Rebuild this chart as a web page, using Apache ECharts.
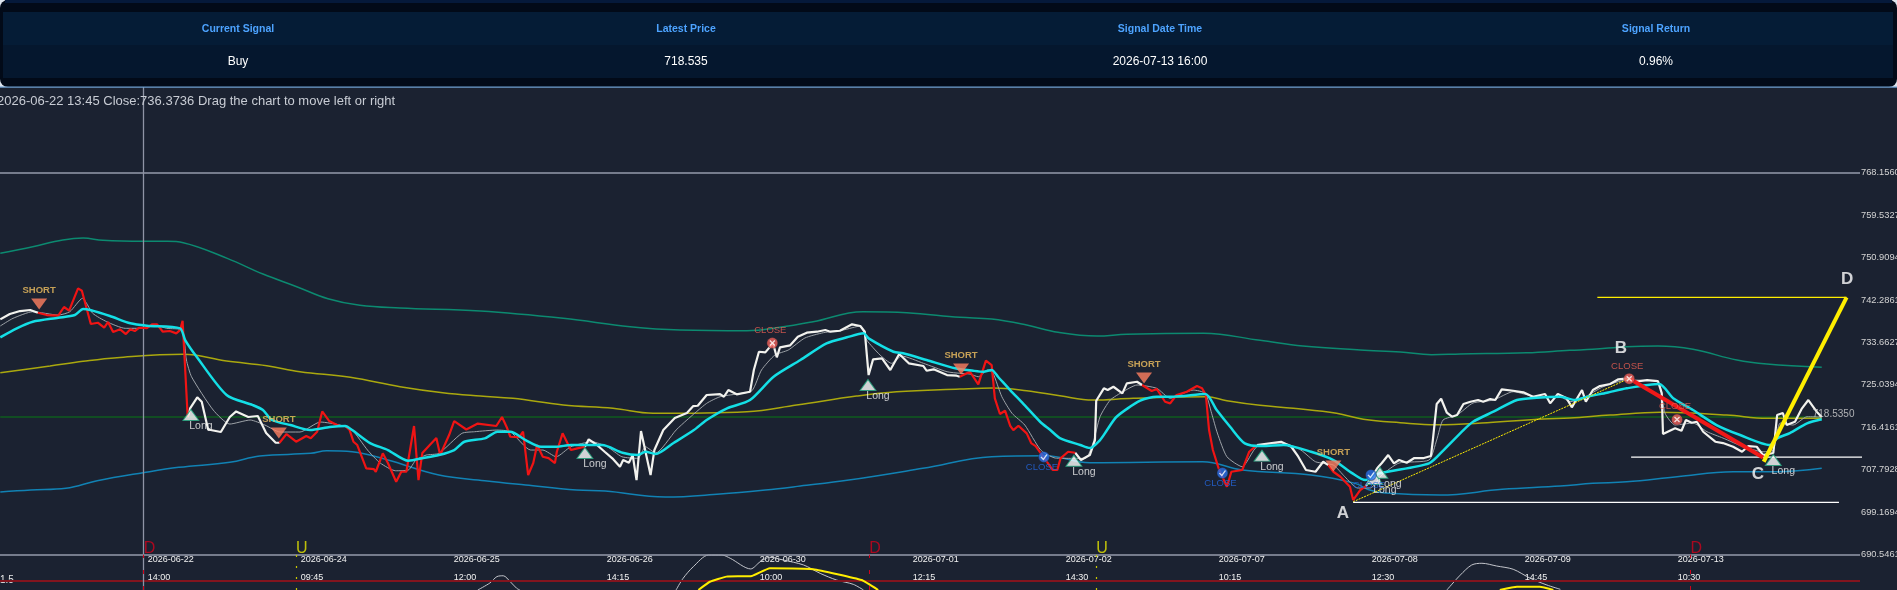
<!DOCTYPE html>
<html><head><meta charset="utf-8">
<style>html,body{margin:0;padding:0;background:#1b2231;overflow:hidden}#c{width:1897px;height:590px}</style>
<script src="https://cdn.jsdelivr.net/npm/echarts@6/dist/echarts.min.js"></script>
</head><body><div id="c"></div>
<script>
const summaryHeaders=['Current Signal','Latest Price','Signal Date Time','Signal Return'];
const summaryValues=['Buy','718.535','2026-07-13 16:00','0.96%'];
const hoverText='2026-06-22 13:45 Close:736.3736 Drag the chart to move left or right';
const yTicks=[768.156,759.5327,750.9094,742.2861,733.6627,725.0394,716.4161,707.7928,699.1694,690.5461];
const xTickLabels=['2026-06-22\n14:00','2026-06-24\n09:45','2026-06-25\n12:00','2026-06-26\n14:15','2026-06-30\n10:00','2026-07-01\n12:15','2026-07-02\n14:30','2026-07-07\n10:15','2026-07-08\n12:30','2026-07-09\n14:45','2026-07-13\n10:30'];
const latestPrice=718.535;

const closeBars=[1.5,3,4.6,6.2,7.4,8.8,10.6,11.5,12.3,13.7,14.3,15.7,16.8,17.8,18.4,19.2,20.3,21.2,21.9,22.6,23.3,24.5,25.3,26.1,27,28.1,29.1,29.7,30.1,30.9,31.3,32.4,33.1,34.1,36.1,37.5,38.5,40.4,41.9,43.2,44.7,45.3,46.4,47.9,49.5,50.2,51.2,52,53.1,54.6,55.6,56.3,56.9,57.5,58.9,60.1,60.4,61.5,62.3,63.6,64.4,65.2,66.4,67.1,67.7,69.9,70.5,71.9,72.7,74.6,76.4,79.3,80.2,81,81.5,82.9,83.5,84.3,85.1,85.7,86.6,87.5,88.5,88.8,89.7,91,92,93.2,93.8,95.1,96.3,97.5,98.7,99.2,100.1,100.7,101.3,102,103.5,104.1,105.5,107.3,109.2,110.2,110.9,112.3,114.4,115,115.7,117,119.1,119.7,120.5,121.5,122.7,123.3,123.8,125.4,126.6,128,129.6,130.9,131.7,133.2,135.1,136.4,137.1,137.7,138.4,139.8,141.1,142.5,144,146.3,146.8,147.9,150,151.5,152,153.6,154.9,156.1,157,157.5,158.3,159.1,159.9,160.4,161.2,162.5,163.2,163.9,166.6,167.3,167.8,169,170.1,171,172.4,173.2,173.4,174.6,175.2,176.1,177.5,178.2,179.8,180.6,182.1,182.9,184.2,185,186,187.6,189.2,190,190.6,191.1,191.7,192.6,193.9,194.6,196.3,197.4,198.6,202.4,204,205.1,206.3,207.8,209,209.8,210.6,211.7,213.2,213.7,214.8,215.7,217.5,218.2,219.2,220.1,220.9,222.1,223.3,224.8,225.9,226.2,226.8,227.5,228.4,229.2,230,231,232.1,233.3,234.1,235.2,236,237,238.8,240.4,241.9,243.8,244.6,245.8,247.2,248,249.6,250.2,251.3,252.4,254,255.3,256.8,257.9,259.8,261.5,262.1,262.3,264.2,265.2,265.9,266.8,267.6,268.6,270.5,271.7,273.3,274.7,275.7,277,278,279.6,280.2,281.1,281.7,283,284.1,285.1,286.4,287.2];
const closeValues=[738.37,739.45,740.05,740.26,739.71,739.24,739.1,740.87,740.12,744.67,744.18,737.41,737.68,736.66,737.82,735.79,736.34,735.38,736.34,735.99,736.66,736.6,737.35,737.35,735.85,735.99,735.52,736.19,738.08,718.52,720.34,722.52,721.62,715.98,715.47,718.52,719.65,718.52,718.72,715.26,713.29,713.29,715.06,713.5,714.65,714.19,715.53,719.65,717.7,716.69,716.69,715.87,713.5,712.83,708.09,707.95,707.4,711.14,709.17,705.37,707.4,707.4,716.69,705.71,711.2,714.25,710.79,714.86,717.7,715.98,717.19,716.69,718.52,716.28,714.51,714.45,715.53,706.73,709.17,712.83,710.45,710.18,709.17,711.46,715.2,711.81,712.16,712.48,713.98,712.83,711.46,710.12,708.42,709.78,709.23,710.79,705.71,715.67,706.73,711.81,715.87,718.31,719.33,720.75,720.81,722.99,723.19,722.64,724,723.13,723.66,728.07,731.78,731.66,733.49,730.65,732.68,733.08,734.83,735.65,735.85,736.19,735.85,736.05,737.35,737.01,735.85,727.05,730.24,730.44,728.07,731.32,729.43,728.88,727.92,728.21,727.05,726.91,726.7,727.72,725.16,729.96,729.08,722.32,719.13,719.8,716.75,715.87,716.75,715.2,713.23,712.62,707.75,707.75,710.12,711.46,711.26,709.78,710.79,713.84,721.83,724.35,724,724.67,723.33,725.36,725.69,725.02,723.8,724.21,721.62,721.3,722.99,723.66,724.81,724.35,722.99,715.87,711.81,708.09,704.35,707.4,707.75,711.46,712.83,713.5,712.48,710.45,707.75,707.4,709.43,708.76,707.4,706.38,704.35,701.65,703.68,704.49,708.15,709.17,710.79,709.11,709.78,709.23,710.18,710.18,710.59,713.84,721.16,722.23,719.39,718.58,718.92,721.16,721.62,721.97,721.62,722.17,721.97,724.14,723.86,723.53,722.64,723.19,721.3,723.19,722.31,720.49,724,721.62,724,724.81,725.22,726.18,726.38,725.69,726.03,725.83,723.39,715.06,716.22,715.73,717.91,717.36,717.56,715.53,713.5,713.23,712.48,711.46,712.62,712.48,710.79,711.2,718.92,719.33,716.89,717.56,720.28,721.97,719.6,718.54];
const shortModeRanges=[[7.4,30.9],[45.3,93.2],[152,170.1],[180.6,198.6],[209.8,215.7]];

const thinBars=[1.5,3.5,6.6,10.6,12.4,14.4,16,18.2,21.1,23.9,25.8,27.6,30,30.7,31.5,34.9,37.5,40.7,43,45.4,48.5,51.7,54.8,56.7,59.1,61.1,63.5,65.5,66.7,68.3,70.3,73.9,75.9,79.4,81.5,84.7,86.6,88.7,91,94.3,96.7,99,101.5,102.7,104.3,107.5,109.2,112.3,114.4,117,119.4,120.9,123,125.1,127.7,130.6,133.7,136.4,137.4,139.5,141.3,142.9,146.3,150,152,153.6,154.9,156.4,157.2,158.6,160.2,162.2,164.7,167,169.3,171.7,172.9,174,175.6,177.6,179.8,182.9,185,188.6,190.5,191.5,192.4,193.9,196.3,198.6,202.8,205.5,207.8,210.6,212.4,214.4,216.4,218.2,220.9,225.6,226.8,227.8,230,232.5,235.7,238.8,242.5,246.2,247.7,249.8,252.9,256.6,261.5,262.6,264.2,267,269.2,271.7,274.9,278,279.6,280.7,282.7,284.9,287.2];
const thinValues=[737.01,738.57,739.91,739.24,739.91,742.64,739.59,737.88,736.54,736.54,737.21,736.54,736.19,730.1,726.7,719.94,717.09,717.91,716.89,715.47,715.47,717.5,716.89,715.87,711.81,709.17,707.6,707.75,709.78,710.79,711.14,715.2,715.53,715.87,715.53,711.81,711.81,710.45,712.48,713.5,712.48,710.45,710.12,712.48,711.2,715.87,717.91,721.3,722.64,723.19,723.86,728.07,731.11,732.13,734.57,735.65,736.19,737.01,734.16,731.11,729.43,730.91,729.43,727.72,727.4,727.25,726.7,728.07,727.46,722.64,719.27,716.89,711.81,710.18,710.12,710.12,713.23,718.58,721.97,723.66,725.02,724.35,722.32,724,723.33,719.27,715.26,710.45,708.42,712.48,713.23,711.81,709.43,708.76,706.38,704.09,704.09,706.73,709.17,709.78,713.84,717.91,718.92,721.36,721.97,723.66,722.64,722.64,721.62,722.38,724.67,726.03,725.69,719.33,716.89,717.3,715.53,714.25,712.48,711.46,711.81,717.3,716.89,718.58,718.52];

const cyanBars=[1.5,4.1,6.6,10.6,13.2,14.5,15.6,18.7,21.9,24.5,29.7,30.5,32.3,37,41.1,42.7,44.1,47,50.1,53.2,55.6,56.7,59.5,62.3,65.5,67.9,70.3,72.7,74.3,77.5,79.5,81.5,83.9,86.3,88.7,91,95.9,99.1,101.5,102.7,104.3,107.1,110.3,112.3,115.5,119.1,122.8,127,131.1,134.3,136.9,137.7,141.6,143.1,146.8,151.3,154.1,155.7,157,158,159.9,161.9,164.6,166.2,167.7,170.9,172.4,174,175.1,176.6,180.3,182.9,185.5,190.5,192.3,194.4,196.7,199.4,202.8,207.1,210.6,213.6,215.6,217.9,225.6,227.9,231,232.5,235.7,239.4,242.5,246.2,248.5,250.4,253.5,256.6,261.7,263.9,267,270.7,274.4,279.1,280.2,282.2,284.9,287.2];
const cyanValues=[734.71,736.54,737.88,738.69,739.24,740.46,740.26,739.04,737.56,737.07,736.54,734.16,730.77,722.99,720.95,719.94,717.91,716.89,715.87,716.48,716.69,715.87,713.23,711.81,709.64,710.18,710.79,711.81,713.5,714.19,715.53,715.53,713.84,712.48,712.48,712.83,712.83,711.26,710.79,711.46,711,713.23,715.87,717.91,720.28,721.97,726.7,730.1,733.49,734.71,735.52,734.51,731.78,731.46,730.1,728.41,727.92,727.72,728.07,726.7,724,721.3,717.56,715.87,714.25,712.83,712.22,713.84,715.87,718.58,721.83,722.64,722.64,723.19,719.94,716.54,713.17,712.62,712.83,711.46,709.78,707.08,705.71,707.08,709.11,711.81,715.87,717.56,719.6,721.97,722.44,722.64,721.97,722.64,723.45,724.35,725.22,722.32,719.94,716.89,714.86,712.83,714.19,715.26,717.24,718.05];

const upperBars=[1.5,6.6,11.3,14.5,17.6,23.9,27.7,30.2,37.1,42.7,48,52.9,57.9,64.2,76.8,89.8,100.3,108.1,118.6,123.8,129,136.8,143.7,152,157,162.5,167.4,173.5,178.2,190.2,199.1,205.8,214.8,221.1,226,230.5,240.9,247.7,251.3,256.6,261.5,267,273.9,278.6,287.2];
const upperValues=[751.78,753.12,754.48,754.89,754.42,754.22,754.22,753.93,750.76,747.57,744.99,742.55,741.21,740.66,740.05,738.57,736.86,736.19,736.05,736.74,737.88,739.91,739.71,738.77,738.43,737.21,735.73,734.97,735.32,735.52,734.1,732.94,732.13,731.72,731.18,731.32,731.58,732.07,732.27,732.8,732.94,732.27,730.1,729.29,728.61];

const middleBars=[1.5,9.3,14.5,19.8,30.2,37,43.3,48.5,56.4,64.2,70.9,76.8,81.9,89.8,97.6,103.9,118.6,126.4,135.8,142.1,152,157.2,162.5,167.7,172.9,179.2,190.7,193.9,199.1,204.3,211.1,215.3,221.1,226.8,234.7,243.5,247.7,254,261.9,272.3,278.6,287.2];
const middleValues=[727.52,728.88,729.83,730.57,731.26,729.89,728.94,727.72,726.58,724.67,723.45,722.78,722.32,720.95,720.28,719.27,719.6,720.95,722.78,723.66,724.21,724.41,723.86,722.84,721.97,722.32,722.64,721.83,720.89,720.28,719.27,718.05,717.36,716.95,717.36,718.11,718.31,718.92,719.47,718.92,718.25,718.25];

const lowerBars=[1.5,6.3,11.8,16.7,23.9,29.5,37.5,42.2,50.2,52.7,56.7,62.3,70.3,77.5,83.9,91.9,96.4,105.8,114.4,121.5,127,134.6,146.2,157,165.5,172.4,190.1,196.3,207.1,214,216.3,218.7,227.3,237.1,246.2,251.3,256.6,264.5,273.3,280.2,287.2];
const lowerValues=[703.28,703.68,704.03,705.57,707.2,708.29,709.31,710.59,711.14,711.67,711.46,709.78,706.73,705.57,704.7,703.68,703.48,702.26,702.87,703.68,704.49,705.71,708.09,710.45,710.65,709.23,709.43,707.75,706.73,705.04,703.68,703.07,702.67,703.82,704.49,705.04,705.37,706.38,707.4,707.4,708.09];

const shortBars=[7.6,45.2,152.2,180.9,210.6];
const shortValues=[741.48,715.27,728.27,726.45,708.57];
const longBars=[31.4,93.2,137.6,169.9,199.4,217.9,217.1,279.6];
const longValues=[718.93,711.21,725.02,709.64,710.66,707.2,705.92,709.79];
const closeWinBars=[122.6,257,264.5];
const closeWinValues=[733.55,726.3,718.0];
const closeLossBars=[165.2,193.2,216.5];
const closeLossValues=[710.4,707.14,706.74];

const pointBars={A:213.7,B:257,C:278,D:291.1};
const pointValues={A:701.3,B:726.34,C:710.29,D:742.84};
const waveLabels=[['A',212.1,699.01],['B',255.7,732.54],['C',277.2,706.87],['D',291.2,746.56]];
const levelLineA=[[213.7,701.18],[289.9,701.18]];
const levelLineC=[[257.3,710.39],[294.5,710.39]];
const levelLineD=[[252,742.84],[291.1,742.84]];
const cdStart=[278.1,709.43];

const signalBars=[24,47.9,137.8,173.4,266.6];
const signalNames=['D','U','D','U','D'];

const oscWhiteBars=[76.4,78.3,79.4,80.4,81.5,82.5,83,null,107.5,108.6,110.2,112.6,114.7,116,119.2,120.7,122.2,124.3,127.5,130.1,132.7,135.3,136.9,null,228.4,230.5,232.3,233.9,236.2,238.8,241.5,244.1,246.2];
const oscWhiteValues=[0.94,1.35,1.72,1.77,1.42,1.04,0.94,null,0.94,1.62,2.3,2.98,2.98,2.79,2.17,2.59,2.85,2.69,2.4,1.91,1.52,1.27,0.94,null,0.94,1.81,2.4,2.5,2.34,2.15,1.62,1.23,0.98];
const oscYellowBars=[111,112.8,115.4,119.4,122.2,129,136.6,139.2,null,236.7,239.4,243,245.1];
const oscYellowValues=[0.94,1.42,1.72,1.76,2.21,2.15,1.52,0.94,null,0.94,1.13,1.13,0.94];
const oscLevel=1.5;
const hoverBar=23.9;
const lastBar=287.2;
const barMax=293.2;
const mainTop=785.57;

const zip=(a,b)=>a.map((x,i)=>x===null?[null,null]:[x,b[i]]);
const isShort=b=>shortModeRanges.some(r=>b>=r[0]&&b<=r[1]);
const insideShort=b=>shortModeRanges.some(r=>b>r[0]&&b<r[1]);
const redData=closeBars.map((b,i)=>isShort(b)?[b,closeValues[i]]:[null,null]);
const whiteData=closeBars.map((b,i)=>insideShort(b)?[null,null]:[b,closeValues[i]]);

const FONT='"Liberation Sans",Arial,sans-serif';
const ln=(name,data,color,width,z,extra)=>Object.assign({name,type:'line',data,showSymbol:false,symbol:'none',smooth:false,connectNulls:false,lineStyle:{color,width},z:z||3,silent:true,animation:false},extra||{});
const mk=(name,bars,vals,opt)=>Object.assign({name,type:'scatter',data:zip(bars,vals),silent:true,animation:false,z:8},opt);
const mlStyle=(color,width,type)=>({color,width,type:type||'solid'});

const chart=echarts.init(document.getElementById('c'),null,{renderer:'canvas',width:1897,height:590});
const columns=[238,686,1160,1656];
const headerTexts=summaryHeaders.map((t,i)=>({type:'text',z:20,style:{text:t,x:columns[i],y:29,align:'center',verticalAlign:'middle',fill:'#4da3ff',font:'bold 10.5px '+FONT}}));
const valueTexts=summaryValues.map((t,i)=>({type:'text',z:20,style:{text:t,x:columns[i],y:61.5,align:'center',verticalAlign:'middle',fill:'#ffffff',font:'12px '+FONT}}));

chart.setOption({
  backgroundColor:'#1b2231',
  animation:false,
  graphic:[
    {type:'rect',z:10,shape:{x:0,y:0,width:1897,height:87},style:{fill:'#dfe5ee'}},
    {type:'rect',z:11,shape:{x:0,y:0,width:1897,height:87,r:8},style:{fill:'#020a18'}},
    {type:'rect',z:12,shape:{x:5,y:0,width:1887,height:3},style:{fill:'#05193a'}},
    {type:'rect',z:12,shape:{x:3,y:12,width:1890,height:33},style:{fill:'#051c36'}},
    {type:'rect',z:12,shape:{x:3,y:45,width:1890,height:33},style:{fill:'#05172e'}},
    {type:'rect',z:12,shape:{x:0,y:86.5,width:1897,height:1.2},style:{fill:'#6f9fd0'}},
    ...headerTexts,...valueTexts,
    {type:'text',z:20,style:{text:hoverText,x:-3,y:101.5,verticalAlign:'middle',fill:'#c8ccd4',font:'13px '+FONT}}
  ],
  grid:[
    {left:-9.3,top:87,width:1869.3,height:467.7,containLabel:false,outerBoundsMode:'none'},
    {left:-9.3,top:554.7,width:1869.3,height:35.3,containLabel:false,outerBoundsMode:'none'}
  ],
  xAxis:[
    {type:'value',gridIndex:0,min:0,max:barMax,interval:24,splitLine:{show:false},axisLine:{show:false},axisTick:{show:false},
     axisLabel:{show:true,showMinLabel:false,showMaxLabel:false,hideOverlap:false,margin:-4,align:'left',color:'#f2f2f2',fontFamily:FONT,fontSize:9,lineHeight:18,padding:[0,0,0,4],
       formatter:v=>xTickLabels[Math.round(v/24)-1]||''}},
    {type:'value',gridIndex:1,min:0,max:barMax,interval:24,show:false,splitLine:{show:false}}
  ],
  yAxis:[
    {type:'value',gridIndex:0,position:'right',min:690.5461,max:mainTop,splitLine:{show:false},axisLine:{show:false},axisTick:{show:false},
     axisLabel:{customValues:yTicks,margin:1,align:'left',color:'#d4d4d4',fontFamily:FONT,fontSize:9.3,padding:[0,0,6,0],formatter:v=>v.toFixed(4)}},
    {type:'value',gridIndex:1,position:'left',min:0.94,max:3,splitLine:{show:false},axisLine:{show:false},axisTick:{show:false},
     axisLabel:{customValues:[oscLevel],inside:true,margin:9.3,align:'left',color:'#e8e8e8',fontFamily:FONT,fontSize:10,padding:[0,0,6,0],formatter:v=>String(v)}}
  ],
  series:[
    ln('frame',[],'#000',1,1,{markLine:{silent:true,symbol:'none',animation:false,label:{show:false},data:[
      {yAxis:yTicks[0],lineStyle:mlStyle('#969bab',1.5)},
      {yAxis:yTicks[yTicks.length-1],lineStyle:mlStyle('#969bab',1.5)},
      {xAxis:hoverBar,lineStyle:mlStyle('#8f94a5',1.3)}
    ]}}),
    ln('latest',zip([1.5,lastBar],[latestPrice,latestPrice]),'#0f5c1e',1.5,2),
    ln('upper',zip(upperBars,upperValues),'#0c8a70',1.5,3,{smooth:0.4}),
    ln('middle',zip(middleBars,middleValues),'#aaa80e',1.5,3,{smooth:0.4}),
    ln('lower',zip(lowerBars,lowerValues),'#1182b4',1.5,3,{smooth:0.4}),
    ln('thin',zip(thinBars,thinValues),'#9ea3a8',1,4,{smooth:0.2}),
    ln('close',whiteData,'#f2f2ee',2.2,5),
    ln('closeShort',redData,'#f01414',2.2,5),
    ln('cyan',zip(cyanBars,cyanValues),'#14dfe6',2.5,6,{smooth:0.25}),
    ln('ab',[[pointBars.A,pointValues.A],[pointBars.B,pointValues.B]],'#ffee00',1,7,{lineStyle:{color:'#ffee00',width:1,type:[2,1]}}),
    ln('levelA',levelLineA,'#ffffff',1.2,7),
    ln('levelC',levelLineC,'#ffffff',1.2,7,{clip:false}),
    ln('levelD',levelLineD,'#ffee00',1.2,7),
    ln('bc',[[pointBars.B,pointValues.B],[pointBars.C,pointValues.C]],'#f01818',4,7),
    ln('cd',[cdStart,[pointBars.D,pointValues.D]],'#ffee00',4,7),
    mk('short',shortBars,shortValues,{symbol:'triangle',symbolRotate:180,symbolSize:[16,11],itemStyle:{color:'#ff8060'},
      label:{show:true,position:'top',distance:3,formatter:'SHORT',color:'#f0c060',fontFamily:FONT,fontWeight:'bold',fontSize:9.5}}),
    mk('long',longBars,longValues,{symbol:'triangle',symbolSize:[16,11],itemStyle:{color:'#ffffff',borderColor:'#1fa37a',borderWidth:1},
      label:{show:true,position:'bottom',distance:0,offset:[10,0],formatter:'Long',color:'#f2f2f2',fontFamily:FONT,fontSize:10.5}}),
    mk('closeWin',closeWinBars,closeWinValues,{symbol:'circle',symbolSize:11,itemStyle:{color:'#f0605a',borderColor:'#20202a',borderWidth:0.5},
      label:{show:true,position:'top',distance:2,offset:[-2,0],formatter:'CLOSE',color:'#ec5f52',fontFamily:FONT,fontSize:9.5}}),
    mk('closeWinX',closeWinBars,closeWinValues,{symbol:'path://M0,0L10,10M10,0L0,10',symbolSize:5,z:9,itemStyle:{color:'none',borderColor:'#ffffff',borderWidth:1.3}}),
    mk('closeLoss',closeLossBars,closeLossValues,{symbol:'circle',symbolSize:11,itemStyle:{color:'#2a6fe8',borderColor:'#20202a',borderWidth:0.5},
      label:{show:true,position:'bottom',distance:0,offset:[-2,0],formatter:'CLOSE',color:'#2468e0',fontFamily:FONT,fontSize:9.5}}),
    mk('closeLossV',closeLossBars,closeLossValues,{symbol:'path://M0,5L4,9L10,1',symbolSize:[6,5],z:9,itemStyle:{color:'none',borderColor:'#ffffff',borderWidth:1.3}}),
    {name:'wave',type:'scatter',data:waveLabels.map(r=>({value:[r[1],r[2]],name:r[0]})),symbolSize:0,silent:true,animation:false,z:10,
      label:{show:true,position:'inside',formatter:p=>p.name,color:'#ffffff',fontFamily:FONT,fontWeight:'bold',fontSize:17}},
    {name:'lastLabel',type:'scatter',data:[[lastBar,latestPrice]],symbolSize:0,silent:true,animation:false,z:10,
      label:{show:true,position:'right',distance:-9,offset:[0,-3],formatter:()=>latestPrice.toFixed(4),color:'#d4d4d4',fontFamily:FONT,fontSize:10}},
    {name:'signal',type:'scatter',symbolSize:0,silent:true,animation:false,z:10,clip:false,
      data:signalBars.map((b,i)=>({value:[b,yTicks[yTicks.length-1]],name:signalNames[i],label:{color:signalNames[i]==='D'?'#d0021b':'#e6e600'}})),
      label:{show:true,position:[0,2],align:'left',verticalAlign:'bottom',formatter:p=>p.name,fontFamily:FONT,fontSize:16}},
    ln('oscFrame',[],'#000',1,1,{xAxisIndex:1,yAxisIndex:1,markLine:{silent:true,symbol:'none',animation:false,label:{show:false},data:[
      {yAxis:oscLevel,lineStyle:mlStyle('#82141e',1.8)},
      {xAxis:hoverBar,lineStyle:mlStyle('#8f94a5',1.3)},
      ...signalBars.map((b,i)=>({xAxis:b,lineStyle:signalNames[i]==='D'?mlStyle('#d0021b',1,[4,12]):mlStyle('#c8c800',1.2,[2,9])}))
    ]}}),
    ln('oscWhite',zip(oscWhiteBars,oscWhiteValues),'#c4c6cc',1,4,{xAxisIndex:1,yAxisIndex:1,smooth:0.3}),
    ln('oscYellow',zip(oscYellowBars,oscYellowValues),'#ffee00',2,5,{xAxisIndex:1,yAxisIndex:1,smooth:0.12})
  ]
});
</script></body></html>
